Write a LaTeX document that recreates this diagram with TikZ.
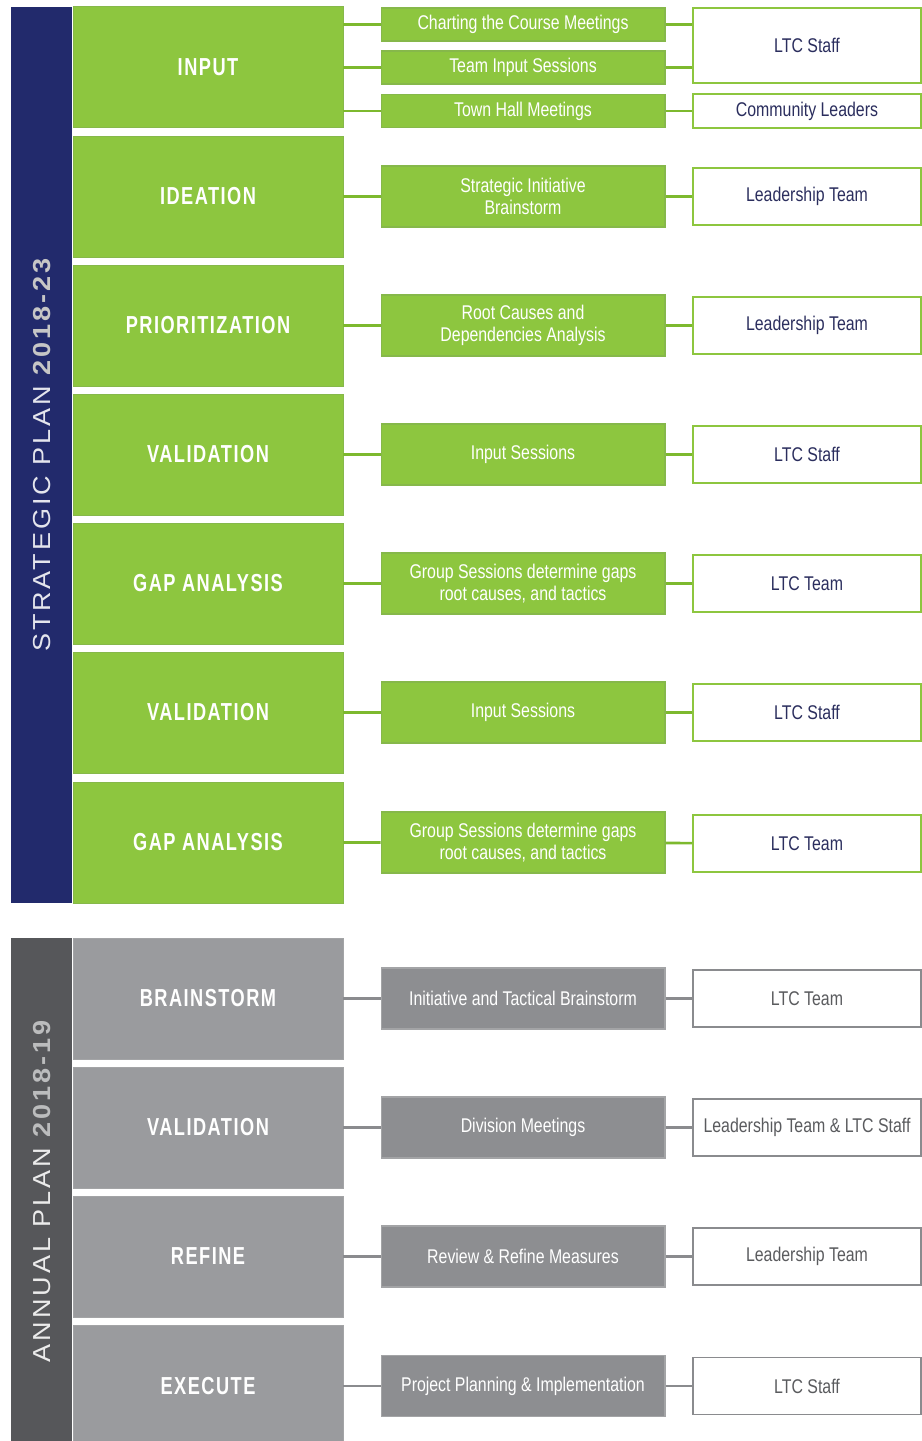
\documentclass[tikz,border=0pt]{standalone}
\usepackage{fontspec}
\setmainfont{Liberation Sans}
\newfontfamily\condfont[FakeStretch=0.8]{Liberation Sans}
\newfontfamily\headfont[FakeStretch=0.74,LetterSpace=6]{Liberation Sans}
\newfontfamily\sidefont[FakeStretch=1.1,LetterSpace=12]{Liberation Sans}
\usetikzlibrary{positioning}
\usetikzlibrary{calc}

\definecolor{planblue}{HTML}{222A6C}
\definecolor{leafgreen}{HTML}{8DC63F}
\definecolor{leafedge}{HTML}{86B84A}
\definecolor{leafline}{HTML}{7DB92E}
\definecolor{slate}{HTML}{56575A}
\definecolor{stone}{HTML}{9A9B9E}
\definecolor{stonedark}{HTML}{8D8E91}
\definecolor{stoneedge}{HTML}{A3A4A6}
\definecolor{stoneline}{HTML}{8A8B8E}
\definecolor{whotext}{HTML}{2B2E5E}
\definecolor{whogray}{HTML}{5A5B5E}

\begin{document}
\begin{tikzpicture}
			[x=0.02cm,y=-0.02cm,
			 phasebox/.style={fill=leafgreen,draw=leafedge,line width=0.5pt,minimum width=5.4cm,minimum height=2.42cm,
			   text=white,font=\headfont\bfseries\fontsize{14}{16}\selectfont},
			 actbox/.style={fill=leafgreen,draw=leafedge,line width=0.6pt,minimum width=5.68cm,minimum height=1.22cm,
			   text=white,align=center,font=\condfont\fontsize{11.3}{12.5}\selectfont},
			 whobox/.style={fill=white,draw=leafgreen,line width=1pt,minimum width=4.56cm,minimum height=1.14cm,
			   text=whotext,font=\condfont\fontsize{11.3}{12.5}\selectfont},
			 link/.style={leafline,line width=1.5pt},
			 grayphase/.style={phasebox,fill=stone,draw=stoneedge},
			 grayact/.style={actbox,fill=stonedark,draw=stoneedge},
			 graywho/.style={whobox,draw=stoneline,text=whogray},
			 graylink/.style={link,stoneline}]

			\clip (0,0) rectangle (922,1441);

			% sidebars
			\fill[planblue] (11,7) rectangle (72,903);
			\fill[slate] (11,938) rectangle (72,1445);
			\node (stratlabel) [rotate=90,text=white!88!planblue,font=\sidefont\fontsize{14}{16}\selectfont] at (42,455)
				{STRATEGIC PLAN \textcolor{white!55!gray}{\bfseries 2018-23}};
			\node (annuallabel) [rotate=90,text=white!88!slate,font=\sidefont\fontsize{14}{16}\selectfont] at (42,1191)
				{ANNUAL PLAN \textcolor{white!60!slate}{\bfseries 2018-19}};

			% strategic plan phases
			\node (input) [phasebox] at (208,67) {INPUT};
			\node (ideation) [phasebox] at (208,196.5) {IDEATION};
			\node (prior) [phasebox] at (208,325.5) {PRIORITIZATION};
			\node (valid) [phasebox] at (208,454.5) {VALIDATION};
			\node (gap) [phasebox] at (208,583.5) {GAP ANALYSIS};
			\node (validtwo) [phasebox] at (208,712.5) {VALIDATION};
			\node (gaptwo) [phasebox] at (208,842.5) {GAP ANALYSIS};

			\node (charting) [actbox,minimum height=0.66cm] at (523,24.5) {Charting the Course Meetings};
			\node (teaminput) [actbox,minimum height=0.66cm] at (523,67.5) {Team Input Sessions};
			\node (townhall) [actbox,minimum height=0.66cm] at (523,111) {Town Hall Meetings};
			\node (brainact) [actbox] at (523,196.5) {Strategic Initiative\\Brainstorm};
			\node (rootact) [actbox] at (523,325.5) {Root Causes and\\Dependencies Analysis};
			\node (inputact) [actbox] at (523,454.5) {Input Sessions};
			\node (groupact) [actbox] at (523,583.5) {Group Sessions determine gaps\\root causes, and tactics};
			\node (inputacttwo) [actbox] at (523,712.5) {Input Sessions};
			\node (groupacttwo) [actbox] at (523,842.5) {Group Sessions determine gaps\\root causes, and tactics};

			\node (ltcstaff) [whobox,minimum height=1.5cm] at (807,45.5) {LTC Staff};
			\node (community) [whobox,minimum height=0.68cm] at (807,111) {Community Leaders};
			\node (leadone) [whobox] at (807,196.5) {Leadership Team};
			\node (leadtwo) [whobox] at (807,325.5) {Leadership Team};
			\node (staffone) [whobox] at (807,454.5) {LTC Staff};
			\node (teamone) [whobox] at (807,583.5) {LTC Team};
			\node (stafftwo) [whobox] at (807,712.5) {LTC Staff};
			\node (teamtwo) [whobox] at (807,843.5) {LTC Team};

			\draw[link] (charting.west) -- (charting.west -| input.east);
			\draw[link] (teaminput.west) -- (teaminput.west -| input.east);
			\draw[link] (townhall.west) -- (townhall.west -| input.east);
			\draw[link] (charting.east) -- (charting.east -| ltcstaff.west);
			\draw[link] (teaminput.east) -- (teaminput.east -| ltcstaff.west);
			\draw[link] (townhall) -- (community);
			\draw[link] (ideation) -- (brainact) -- (leadone);
			\draw[link] (prior) -- (rootact) -- (leadtwo);
			\draw[link] (valid) -- (inputact) -- (staffone);
			\draw[link] (gap) -- (groupact) -- (teamone);
			\draw[link] (validtwo) -- (inputacttwo) -- (stafftwo);
			\draw[link] (gaptwo) -- (groupacttwo) -- (teamtwo);

			% annual plan phases
			\node (brainstorm) [grayphase] at (208,998.5) {BRAINSTORM};
			\node (validthree) [grayphase] at (208,1127.5) {VALIDATION};
			\node (refine) [grayphase] at (208,1256.5) {REFINE};
			\node (execute) [grayphase] at (208,1386) {EXECUTE};

			\node (tactact) [grayact] at (523,998.5) {Initiative and Tactical Brainstorm};
			\node (divact) [grayact] at (523,1127.5) {Division Meetings};
			\node (reviewact) [grayact] at (523,1256.5) {Review \& Refine Measures};
			\node (projact) [grayact] at (523,1386) {Project Planning \& Implementation};

			\node (teamthree) [graywho] at (807,998.5) {LTC Team};
			\node (leadstaff) [graywho] at (807,1127.5) {Leadership Team \& LTC Staff};
			\node (leadthree) [graywho] at (807,1256.5) {Leadership Team};
			\node (staffthree) [graywho] at (807,1386) {LTC Staff};

			\draw[graylink] (brainstorm) -- (tactact) -- (teamthree);
			\draw[graylink] (validthree) -- (divact) -- (leadstaff);
			\draw[graylink] (refine) -- (reviewact) -- (leadthree);
			\draw[graylink] (execute) -- (projact) -- (staffthree);
		\end{tikzpicture}
\end{document}
